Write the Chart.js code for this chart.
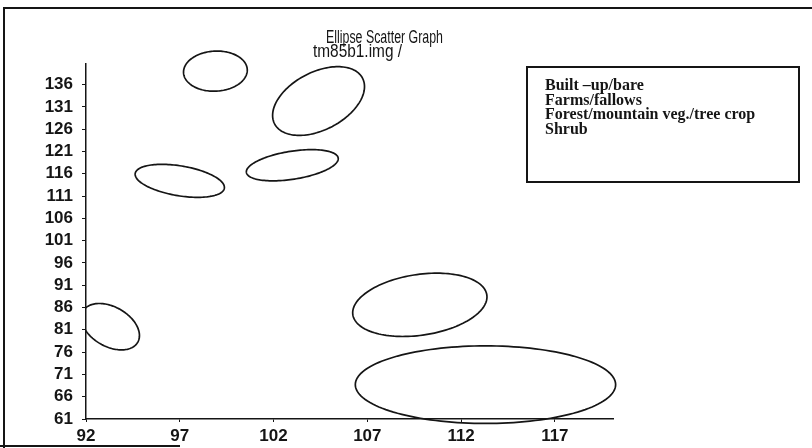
<!DOCTYPE html>
<html>
<head>
<meta charset="utf-8">
<title>Ellipse Scatter Graph</title>
<script src="https://cdn.jsdelivr.net/npm/chart.js@4.4.0/dist/chart.umd.min.js"></script>
<style>
  html, body { margin: 0; padding: 0; background: #fff; }
  #wrap { position: relative; width: 812px; height: 448px; overflow: hidden; }
  #frame { position: absolute; left: 3px; top: 7px; width: 820px; height: 460px;
           border-left: 2px solid #151515; border-top: 2px solid #151515; pointer-events: none; }
  #frameBottom { position: absolute; left: 0; top: 445px; width: 180px; height: 0;
                 border-top: 2px solid #151515; pointer-events: none; }
</style>
</head>
<body>
<div id="wrap">
  <canvas id="ellipseChart" width="812" height="448"></canvas>
  <div id="frame"></div>
  <div id="frameBottom"></div>
</div>
<script>
const chartTitle = ['Ellipse Scatter Graph', 'tm85b1.img /'];
const classNames = ['Built \u2013up/bare', 'Farms/fallows', 'Forest/mountain veg./tree crop', 'Shrub'];

// one entry per signature ellipse: class, mean x / y, std dev x / y, correlation
const ellipseClass = [0, 0, 1, 1, 3, 2, 2];
const meanX = [98.9, 104.4, 97.0, 103.0, 93.3, 109.8, 113.3];
const meanY = [139.0, 132.3, 114.4, 117.9, 81.7, 86.6, 68.7];
const stdX  = [1.7, 2.45, 2.38, 2.45, 1.55, 3.58, 6.94];
const stdY  = [4.5, 7.7, 3.7, 3.5, 5.2, 7.1, 8.7];
const corr  = [0.05, 0.42, -0.4, 0.42, -0.38, 0.25, 0];

const xTicks = [92, 97, 102, 107, 112, 117];
const yTicks = [61, 66, 71, 76, 81, 86, 91, 96, 101, 106, 111, 116, 121, 126, 131, 136];

const ink = '#151515';
const sansFont = '"Liberation Sans", Arial, Helvetica, sans-serif';
const serifFont = '"Liberation Serif", "Times New Roman", serif';

// outline each signature ellipse from its mean, spread and correlation
const ellipsePlugin = {
  id: 'ellipses',
  afterDatasetsDraw(chart) {
    const { ctx, chartArea, scales: { x, y } } = chart;
    ctx.save();
    ctx.beginPath();
    ctx.rect(chartArea.left, 0, chart.width - chartArea.left, chart.height);
    ctx.clip();
    ctx.strokeStyle = ink;
    ctx.lineWidth = 1.7;
    chart.data.datasets.forEach((ds, di) => {
      if (!chart.isDatasetVisible(di)) return;
      ds.data.forEach(p => {
        const k = Math.sqrt(1 - p.r * p.r);
        ctx.beginPath();
        for (let i = 0; i <= 144; i++) {
          const t = i / 144 * Math.PI * 2;
          const px = x.getPixelForValue(p.x + p.sx * Math.cos(t));
          const py = y.getPixelForValue(p.y + p.sy * (p.r * Math.cos(t) + k * Math.sin(t)));
          if (i === 0) ctx.moveTo(px, py); else ctx.lineTo(px, py);
        }
        ctx.closePath();
        ctx.stroke();
      });
    });
    ctx.restore();
  }
};

// title lines and the boxed class list
const captionPlugin = {
  id: 'captions',
  afterDraw(chart) {
    const ctx = chart.ctx;
    ctx.save();
    ctx.fillStyle = ink;
    ctx.textAlign = 'left';
    ctx.textBaseline = 'alphabetic';
    ctx.font = '18px ' + sansFont;
    ctx.fillText(chartTitle[0], 326, 43, 117);
    ctx.fillText(chartTitle[1], 313, 57, 89);

    ctx.strokeStyle = ink;
    ctx.lineWidth = 2;
    ctx.strokeRect(527, 67, 272, 115);
    ctx.font = 'bold 16px ' + serifFont;
    chart.data.datasets.forEach((ds, i) => {
      ctx.fillText(ds.label, 545, 90 + i * 14.5);
    });
    ctx.restore();
  }
};

const datasets = classNames.map((name, c) => ({
  label: name,
  data: ellipseClass
    .map((cls, i) => cls === c ? { x: meanX[i], y: meanY[i], sx: stdX[i], sy: stdY[i], r: corr[i] } : null)
    .filter(Boolean),
  pointRadius: 0,
  showLine: false
}));

new Chart(document.getElementById('ellipseChart'), {
  type: 'scatter',
  data: { datasets: datasets },
  options: {
    responsive: false,
    animation: false,
    devicePixelRatio: 1,
    layout: { padding: { top: 64, right: 199, bottom: 0, left: 0 } },
    plugins: {
      legend: { display: false },
      title: { display: false },
      tooltip: { enabled: false }
    },
    scales: {
      x: {
        type: 'linear',
        min: 92,
        max: 120.1,
        afterBuildTicks: s => { s.ticks = xTicks.map(v => ({ value: v })); },
        afterFit: s => { s.height = 29; },
        border: { color: ink, width: 1.5 },
        grid: { drawOnChartArea: false, tickLength: 3, color: ink },
        ticks: { color: ink, padding: 4, maxRotation: 0, font: { family: sansFont, size: 17, weight: 'bold' } }
      },
      y: {
        type: 'linear',
        min: 61,
        max: 140.6,
        afterBuildTicks: s => { s.ticks = yTicks.map(v => ({ value: v })); },
        afterFit: s => { s.width = 86; },
        border: { color: ink, width: 1.5 },
        grid: { drawOnChartArea: false, tickLength: 4, color: ink },
        ticks: { color: ink, padding: 9, font: { family: sansFont, size: 17, weight: 'bold' } }
      }
    }
  },
  plugins: [ellipsePlugin, captionPlugin]
});
</script>
</body>
</html>
